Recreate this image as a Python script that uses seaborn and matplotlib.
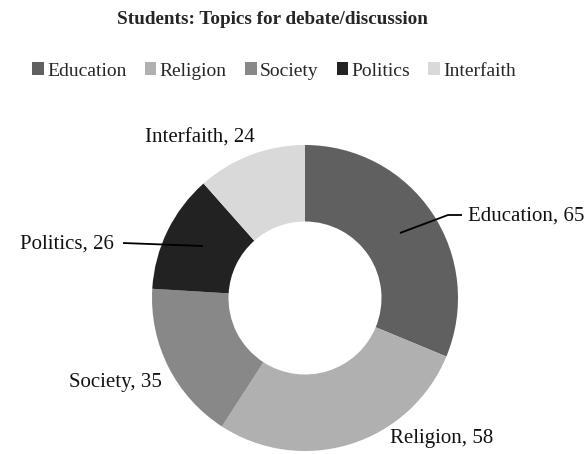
import matplotlib
matplotlib.use("Agg")
import matplotlib.pyplot as plt
import seaborn as sns
import numpy as np
from matplotlib.patches import Patch

# Survey results
topics = ["Education", "Religion", "Society", "Politics", "Interfaith"]
counts = [65, 58, 35, 26, 24]
colors = ["#606060", "#b0b0b0", "#888888", "#222222", "#d9d9d9"]

sns.set_theme(style="white")
plt.rcParams["font.family"] = ["Liberation Serif", "DejaVu Serif"]

W, H, DPI = 587, 454, 100
fig = plt.figure(figsize=(W / DPI, H / DPI), dpi=DPI)
ax = fig.add_axes([0, 0, 1, 1])

wedges, _ = ax.pie(counts, colors=colors, startangle=90, counterclock=False,
                   radius=1.0, wedgeprops=dict(width=0.5, linewidth=0))

# centre of ring and outer radius in pixels
cx, cy, R = 305, 298, 153
ax.set_aspect("auto")
ax.set_xlim(-cx / R, (W - cx) / R)
ax.set_ylim(-(H - cy) / R, cy / R)
ax.axis("off")


def px(x, y):
    return ((x - cx) / R, (cy - y) / R)


fs = 15
# label placement (pixels): text anchor, alignment, optional leader line
placements = {
    "Education": dict(pos=(468, 216), ha="left", line=[(400, 233), (448, 215), (462, 215)]),
    "Religion": dict(pos=(390, 438), ha="left", line=None),
    "Society": dict(pos=(162, 383), ha="right", line=None),
    "Politics": dict(pos=(114, 244), ha="right", line=[(203, 246), (123, 243)]),
    "Interfaith": dict(pos=(145, 138), ha="left", line=None),
}

for name, val in zip(topics, counts):
    p = placements[name]
    x, y = px(*p["pos"])
    ax.text(x, y, f"{name}, {val}", ha=p["ha"], va="center", fontsize=fs, color="#111111")
    if p["line"]:
        pts = np.array([px(*q) for q in p["line"]])
        ax.plot(pts[:, 0], pts[:, 1], color="black", linewidth=1.3, solid_capstyle="butt")

fig.text(272 / W, 1 - 19 / H, "Students: Topics for debate/discussion",
         ha="center", va="center", fontsize=13.8, fontweight="bold")

handles = [Patch(facecolor=c, edgecolor="none") for c in colors]
fig.legend(handles, topics, loc="center", bbox_to_anchor=(274 / W, 1 - 71 / H), ncol=5,
           frameon=False, fontsize=14, handlelength=0.6, handleheight=0.6,
           handletextpad=0.15, columnspacing=0.95)

fig.savefig("out.png", dpi=DPI)
